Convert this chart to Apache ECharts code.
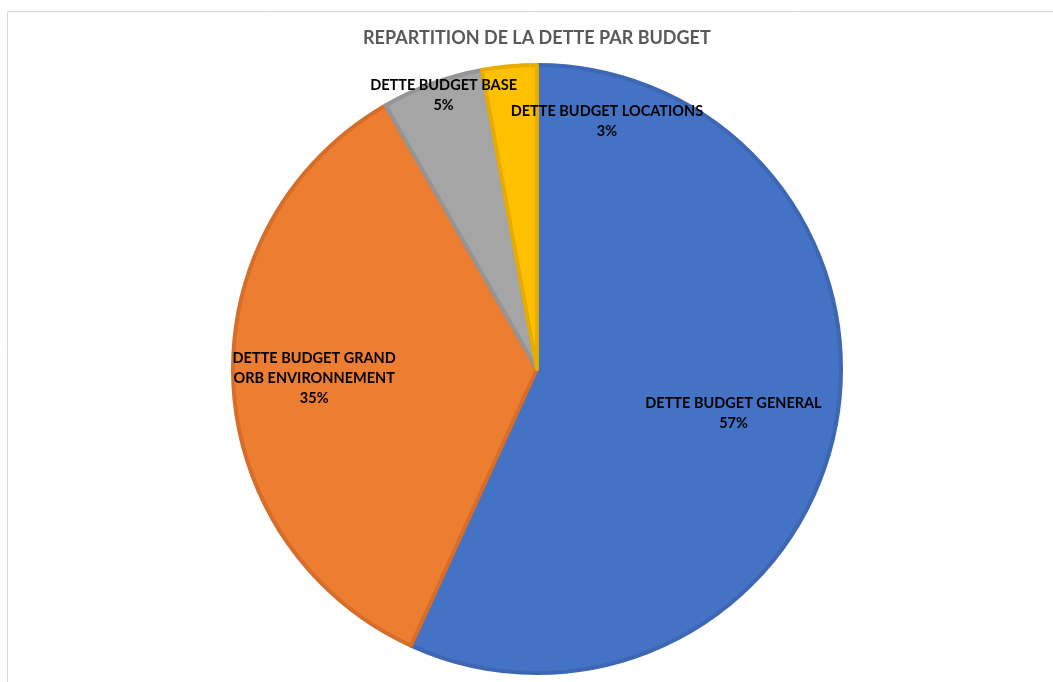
<!DOCTYPE html>
<html>
<head>
<meta charset="utf-8">
<script src="https://cdn.jsdelivr.net/npm/echarts@6/dist/echarts.min.js"></script>
<style>
  html, body { margin: 0; padding: 0; background: #ffffff; }
  #chart { width: 1053px; height: 682px; }
</style>
</head>
<body>
<div id="chart"></div>
<script>
// Debt split by budget (share of total, %)
const categories = [
  'DETTE BUDGET GENERAL',
  'DETTE BUDGET GRAND\nORB ENVIRONNEMENT',
  'DETTE BUDGET BASE',
  'DETTE BUDGET LOCATIONS'
];
const shares = [56.8, 34.9, 5.4, 2.9];
const fillColors = ['#4472C4', '#ED7D31', '#A5A5A5', '#FFC000'];
const edgeColors = ['#3D67B2', '#D66E2A', '#959595', '#E6AD00'];
// label nudges away from the default mid-radius spot
const labelOffsets = [[45, 11], [-68, 2], [-40, -128], [84, -93]];

const chart = echarts.init(document.getElementById('chart'));

const data = categories.map((name, i) => ({
  name: name,
  value: shares[i],
  itemStyle: { color: fillColors[i], borderColor: edgeColors[i] },
  label: { offset: labelOffsets[i] }
}));

chart.setOption({
  backgroundColor: '#ffffff',
  animation: false,
  title: {
    text: 'REPARTITION DE LA DETTE PAR BUDGET',
    left: 358,
    top: 24,
    textStyle: {
      fontFamily: 'Lato',
      fontWeight: 'bold',
      fontSize: 18,
      color: '#595959'
    }
  },
  graphic: [{
    type: 'rect',
    silent: true,
    z: -1,
    shape: { x: 7.5, y: 11.5, width: 1100, height: 700 },
    style: { fill: 'none', stroke: '#D9D9D9', lineWidth: 1 }
  }],
  series: [{
    type: 'pie',
    center: [537, 369],
    radius: [0, 304],
    startAngle: 90,
    clockwise: true,
    percentPrecision: 0,
    avoidLabelOverlap: false,
    itemStyle: { borderWidth: 4 },
    emphasis: { disabled: true },
    labelLayout: { hideOverlap: false },
    label: {
      show: true,
      position: 'inside',
      formatter: '{b}\n{d}%',
      fontFamily: 'Lato',
      fontWeight: 'bold',
      fontSize: 14.5,
      lineHeight: 20,
      color: '#000000',
      align: 'center'
    },
    labelLine: { show: false },
    data: data
  }]
});
</script>
</body>
</html>
